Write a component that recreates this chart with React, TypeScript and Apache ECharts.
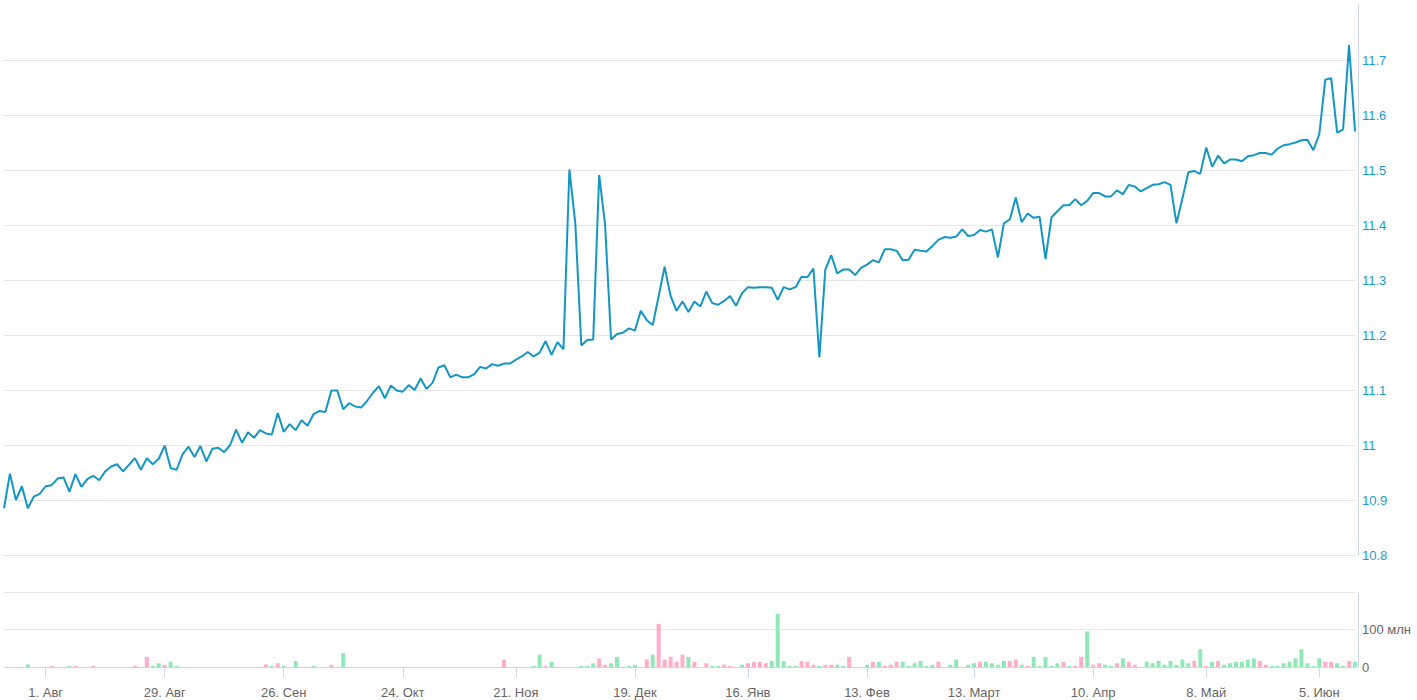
import React, { useEffect, useRef } from 'react';
import * as echarts from 'echarts';

const startDate = '2022-07-21';
const holidays = ['2022-11-04', '2023-01-02', '2023-02-23', '2023-03-08', '2023-05-01', '2023-05-09', '2023-06-12'];
const monthNames = ['Янв', 'Фев', 'Март', 'Апр', 'Май', 'Июн', 'Июл', 'Авг', 'Сен', 'Окт', 'Ноя', 'Дек'];
const tickDates = ['2022-08-01', '2022-08-29', '2022-09-26', '2022-10-24', '2022-11-21', '2022-12-19',
  '2023-01-16', '2023-02-13', '2023-03-13', '2023-04-10', '2023-05-08', '2023-06-05'];

const priceValues = [
  10.885, 10.948, 10.900, 10.925, 10.885, 10.906, 10.911, 10.925, 10.927, 10.939,
  10.941, 10.915, 10.947, 10.924, 10.938, 10.944, 10.936, 10.952, 10.961, 10.965,
  10.952, 10.964, 10.976, 10.955, 10.976, 10.965, 10.975, 10.999, 10.958, 10.955,
  10.983, 10.997, 10.978, 10.998, 10.970, 10.993, 10.995, 10.987, 11.000, 11.028,
  11.004, 11.023, 11.013, 11.027, 11.021, 11.019, 11.058, 11.024, 11.038, 11.027,
  11.045, 11.035, 11.056, 11.062, 11.060, 11.099, 11.099, 11.065, 11.076, 11.070,
  11.068, 11.080, 11.095, 11.107, 11.085, 11.108, 11.099, 11.097, 11.109, 11.100,
  11.121, 11.102, 11.113, 11.141, 11.145, 11.123, 11.128, 11.123, 11.123, 11.129,
  11.142, 11.139, 11.147, 11.144, 11.148, 11.148, 11.155, 11.161, 11.169, 11.161,
  11.168, 11.189, 11.164, 11.187, 11.174, 11.501, 11.402, 11.181, 11.191, 11.192,
  11.491, 11.400, 11.192, 11.202, 11.204, 11.212, 11.208, 11.244, 11.227, 11.218,
  11.271, 11.324, 11.271, 11.244, 11.261, 11.242, 11.261, 11.252, 11.279, 11.258,
  11.255, 11.262, 11.271, 11.253, 11.276, 11.287, 11.286, 11.287, 11.287, 11.286,
  11.264, 11.287, 11.283, 11.287, 11.306, 11.305, 11.321, 11.159, 11.319, 11.345,
  11.312, 11.319, 11.319, 11.309, 11.322, 11.328, 11.336, 11.332, 11.356, 11.356,
  11.353, 11.336, 11.337, 11.355, 11.353, 11.352, 11.362, 11.373, 11.378, 11.377,
  11.379, 11.392, 11.380, 11.382, 11.391, 11.388, 11.392, 11.341, 11.403, 11.410,
  11.450, 11.405, 11.421, 11.413, 11.415, 11.338, 11.414, 11.425, 11.436, 11.436,
  11.447, 11.436, 11.444, 11.458, 11.458, 11.452, 11.452, 11.463, 11.456, 11.473,
  11.470, 11.461, 11.467, 11.473, 11.474, 11.478, 11.473, 11.403, 11.448, 11.496,
  11.498, 11.493, 11.541, 11.506, 11.526, 11.512, 11.519, 11.519, 11.516, 11.525,
  11.527, 11.531, 11.531, 11.528, 11.539, 11.545, 11.547, 11.550, 11.554, 11.555,
  11.536, 11.565, 11.664, 11.667, 11.568, 11.574, 11.727, 11.570,
];

// volume, millions
const volumeMln = [
  0, 0, 0, 0, 7, 0, 0, 0, 3, 0,
  0, 3, 3, 0, 0, 3, 0, 0, 0, 0,
  0, 0, 3, 0, 27, 3, 10, 6, 14, 3,
  0, 0, 0, 0, 0, 0, 0, 0, 0, 0,
  0, 0, 0, 0, 7, 3, 10, 3, 0, 16,
  0, 0, 3, 0, 0, 6, 0, 37, 0, 0,
  0, 0, 0, 0, 0, 0, 0, 0, 0, 0,
  0, 0, 0, 0, 0, 0, 0, 0, 0, 0,
  0, 0, 0, 0, 20, 0, 0, 0, 0, 3,
  33, 3, 14, 0, 0, 0, 0, 3, 3, 10,
  23, 6, 10, 27, 0, 3, 6, 0, 20, 33,
  115, 20, 27, 14, 33, 27, 14, 0, 10, 3,
  3, 6, 3, 0, 6, 10, 14, 14, 10, 16,
  142, 16, 3, 3, 16, 14, 6, 3, 6, 6,
  6, 3, 27, 0, 0, 6, 14, 14, 3, 6,
  14, 14, 3, 10, 16, 3, 6, 14, 0, 6,
  20, 0, 6, 10, 14, 14, 10, 6, 16, 16,
  20, 6, 3, 27, 3, 27, 3, 10, 14, 3,
  3, 27, 95, 6, 10, 6, 3, 10, 23, 14,
  6, 0, 14, 10, 16, 6, 16, 6, 20, 10,
  16, 47, 3, 14, 16, 6, 10, 14, 14, 20,
  23, 16, 6, 3, 3, 10, 14, 23, 47, 10,
  3, 23, 14, 14, 10, 3, 16, 14,
];

// u = up day (green), d = down day (pink), . = no volume
const volumeDirection = (
  '....u...d.' + '.ud..d....' + '..d.duuduu' + '..........' + '....dudu.u' +
  '..u..d.u..' + '..........' + '..........' + '....d....u' + 'udu....uuu' +
  'dduu.uu.du' + 'dddddud.du' + 'udd.uddddu' + 'uuuudddudd' + 'uud..ududd' +
  'duuuuuud.u' + 'u.uuduuuud' + 'duduuuuudu' + 'ddudduudud' + 'd.uuuuuuuu' +
  'dududuuuuu' + 'udduuuuuuu' + 'uudduudu'
).split('');

function buildTradingDays(count: number): string[] {
  const out: string[] = [];
  const [y, m, d] = startDate.split('-').map(Number);
  let t = Date.UTC(y, m - 1, d);
  while (out.length < count) {
    const dt = new Date(t);
    const wd = dt.getUTCDay();
    const s = dt.toISOString().slice(0, 10);
    if (wd !== 0 && wd !== 6 && !holidays.includes(s)) out.push(s);
    t += 86400000;
  }
  return out;
}

const FONT = '"Liberation Sans", Arial, Helvetica, sans-serif';

export default function App() {
  const ref = useRef<HTMLDivElement>(null);
  useEffect(() => {
    if (!ref.current) return;
    const chart = echarts.init(ref.current, null, { renderer: 'svg' });
    const dates = buildTradingDays(priceValues.length);
    const isTick = (_i: number, v: string) => tickDates.includes(v);
    const fmtDate = (v: string) => {
      const [, m, d] = v.split('-').map(Number);
      return `${d}. ${monthNames[m - 1]}`;
    };
    const gridColors = ['#e6e6e6', '#e6e6e6', '#e6e6e6', '#e6e6e6', '#e6e6e6', '#e6e6e6',
      '#e6e6e6', '#e6e6e6', '#e6e6e6', '#e6e6e6', 'rgba(0,0,0,0)'];
    chart.setOption({
      animation: false,
      textStyle: { fontFamily: FONT },
      grid: [
        { left: 4, right: 62, top: 5, height: 550 },
        { left: 4, right: 62, top: 592, height: 75 },
      ],
      xAxis: [
        {
          type: 'category', gridIndex: 0, data: dates, boundaryGap: false,
          axisLine: { show: false }, axisTick: { show: false }, axisLabel: { show: false },
          splitLine: { show: false },
        },
        {
          type: 'category', gridIndex: 1, data: dates, boundaryGap: false, offset: 7,
          axisLine: { lineStyle: { color: '#ccd6eb', width: 1 } },
          axisTick: { interval: isTick, length: 10, lineStyle: { color: '#ccd6eb' } },
          axisLabel: {
            interval: isTick, formatter: fmtDate, color: '#666666', fontSize: 13,
            margin: 12, fontFamily: FONT,
          },
          splitLine: { show: false },
        },
      ],
      yAxis: [
        {
          type: 'value', gridIndex: 0, position: 'right', min: 10.8, max: 11.8, interval: 0.1,
          offset: 3,
          axisLine: { show: true, lineStyle: { color: '#ccd6eb' } },
          axisTick: { show: false },
          axisLabel: {
            color: '#1a9bd0', fontSize: 13, margin: 4, fontFamily: FONT, showMaxLabel: false,
            formatter: (v: number) => String(Math.round(v * 10) / 10),
          },
          splitLine: { lineStyle: { color: gridColors, width: 1 } },
        },
        {
          type: 'value', gridIndex: 1, position: 'right', min: 0, max: 200, interval: 100,
          offset: 3,
          axisLine: { show: true, lineStyle: { color: '#ccd6eb' } },
          axisTick: { show: false },
          axisLabel: {
            color: '#666666', fontSize: 13, margin: 4, fontFamily: FONT, showMaxLabel: false,
            formatter: (v: number) => (v === 0 ? '0' : `${v} млн`),
          },
          splitLine: { lineStyle: { color: '#e6e6e6', width: 1 } },
        },
      ],
      series: [
        {
          type: 'line', xAxisIndex: 0, yAxisIndex: 0, data: priceValues,
          symbol: 'none', showSymbol: false,
          lineStyle: { color: '#1496c4', width: 2 },
        },
        {
          type: 'bar', xAxisIndex: 1, yAxisIndex: 1, barWidth: 4,
          data: volumeMln.map((v, i) => ({
            value: v,
            itemStyle: { color: volumeDirection[i] === 'd' ? '#ffadc8' : '#8fe8b6' },
          })),
        },
      ],
    });
    return () => chart.dispose();
  }, []);
  return (
    <div
      ref={ref}
      style={{ position: 'fixed', left: 0, top: 0, width: 1417, height: 700, background: '#fff' }}
    />
  );
}
